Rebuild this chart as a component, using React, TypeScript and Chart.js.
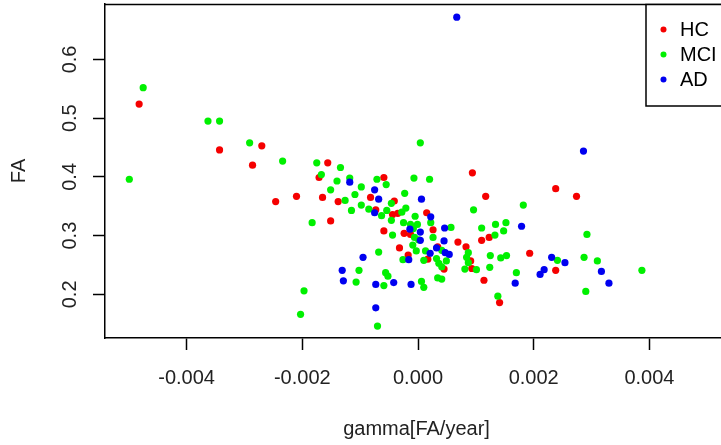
import React, { useEffect, useRef } from "react";
import { Chart, registerables } from "chart.js";

Chart.register(...registerables);

// ---- data ----
const seriesLabels = ["HC", "MCI", "AD"];

const hcX = [-0.00482, -0.00343, -0.0027, -0.00286, -0.00156, -0.00171, -0.0021, -0.00246, -0.00165, -0.00138, -0.00059, -0.00082, -0.00041, -0.00073, -0.00044, -0.00151, -0.00059, -0.00035, 0.00015, -0.00024, -0.00013, 0.00026, 0.00069, 0.00083, 0.00094, 0.00117, 0.0011, 0.00123, -0.00032, 0.00034, -0.00017, 0.00017, 0.00045, 0.00091, 0.00093, 0.00114, 0.00141, 0.00193, 0.00238, 0.00274, 0.00238];
const hcY = [0.524, 0.446, 0.453, 0.42, 0.424, 0.399, 0.367, 0.358, 0.365, 0.358, 0.399, 0.365, 0.359, 0.344, 0.336, 0.325, 0.308, 0.338, 0.339, 0.304, 0.302, 0.31, 0.289, 0.281, 0.407, 0.367, 0.292, 0.297, 0.279, 0.281, 0.267, 0.26, 0.243, 0.257, 0.244, 0.224, 0.186, 0.27, 0.38, 0.367, 0.241];

const mciX = [-0.00475, -0.00499, -0.00363, -0.00343, -0.00291, -0.00234, -0.00175, -0.00134, -0.00167, -0.00118, -0.0014, -0.00151, -0.00109, -0.00126, -0.00098, -0.00071, -0.00055, -0.00098, -0.00115, -0.00085, -0.00054, -0.00063, -0.00046, -0.00046, -0.00183, -0.00044, -0.00068, -0.00102, -0.00056, -0.00052, -0.00107, -0.00059, -0.00197, -0.00203, -0.0007, -0.00007, 0.0002, 0.00004, -0.00023, -0.00028, -0.00021, -0.00005, 0.00022, -0.00025, -0.00013, -0.00001, -0.00008, -0.00006, 0.00001, 0.00026, 0.00057, 0.00096, 0.0011, 0.00134, 0.00133, 0.00152, 0.00148, 0.00182, -0.00009, -0.00003, 0.00013, 0.00041, 0.00087, 0.00084, 0.00125, 0.00143, 0.00153, -0.00026, 0.0001, 0.00032, 0.00036, 0.00041, 0.00049, 0.00087, 0.00081, 0.00101, 0.00124, 0.00034, 0.00041, 0.00006, 0.0001, 0.00138, 0.0017, 0.00241, 0.00287, 0.0031, 0.00292, 0.00387, 0.0029];
const mciY = [0.552, 0.396, 0.495, 0.495, 0.458, 0.427, 0.424, 0.416, 0.404, 0.398, 0.393, 0.378, 0.37, 0.36, 0.383, 0.396, 0.387, 0.352, 0.343, 0.345, 0.343, 0.334, 0.355, 0.326, 0.322, 0.301, 0.272, 0.241, 0.237, 0.231, 0.221, 0.215, 0.206, 0.166, 0.146, 0.398, 0.396, 0.458, 0.372, 0.34, 0.347, 0.333, 0.322, 0.322, 0.319, 0.319, 0.312, 0.297, 0.293, 0.297, 0.314, 0.344, 0.313, 0.319, 0.301, 0.322, 0.308, 0.352, 0.284, 0.274, 0.274, 0.275, 0.271, 0.263, 0.266, 0.262, 0.266, 0.259, 0.258, 0.261, 0.253, 0.247, 0.257, 0.254, 0.243, 0.242, 0.246, 0.228, 0.226, 0.222, 0.212, 0.197, 0.237, 0.258, 0.263, 0.257, 0.302, 0.241, 0.205];

const adX = [0.00067, 0.00286, -0.00118, -0.00075, -0.00068, -0.00075, 0.00006, 0.00022, -0.00014, 0.00004, 0.00046, 0.00004, 0.00045, -0.00095, -0.00131, -0.00129, -0.00073, -0.00042, -0.00012, -0.00073, 0.00021, 0.00032, 0.00047, 0.00054, -0.00016, 0.00179, 0.00231, 0.00254, 0.00218, 0.00211, 0.00317, 0.0033, 0.00168];
const adY = [0.672, 0.444, 0.391, 0.378, 0.362, 0.339, 0.362, 0.332, 0.311, 0.306, 0.313, 0.292, 0.291, 0.263, 0.241, 0.223, 0.217, 0.22, 0.217, 0.177, 0.27, 0.279, 0.271, 0.268, 0.259, 0.316, 0.263, 0.254, 0.242, 0.234, 0.239, 0.219, 0.219];

const xLimits = [-0.00541, 0.005358];
const yLimits = [0.1257, 0.6944];
const xTickStep = 0.002;
const yTickStep = 0.1;
const xTitle = "gamma[FA/year]";
const yTitle = "FA";

const FONT = "'Liberation Sans', Arial, Helvetica, sans-serif";
const COLORS = ["#f50000", "#00f000", "#0000f0"];

const toPoints = (xs: number[], ys: number[]) => xs.map((x, i) => ({ x, y: ys[i] }));

const frameAndLegend = {
  id: "frameAndLegend",
  afterDraw(chart: any) {
    const { ctx, chartArea } = chart;
    ctx.save();
    ctx.strokeStyle = "#000";
    ctx.lineWidth = 1.5;
    ctx.beginPath();
    ctx.moveTo(chartArea.left, chartArea.top + 0.5);
    ctx.lineTo(chartArea.right + 20, chartArea.top + 0.5);
    ctx.stroke();
    // legend box
    const bw = 82;
    const bh = 101.5;
    const bx = chartArea.right - bw;
    const by = chartArea.top + 0.5;
    ctx.fillStyle = "#fff";
    ctx.fillRect(bx, by, bw + 20, bh);
    ctx.beginPath();
    ctx.moveTo(bx + bw + 20, by);
    ctx.lineTo(bx, by);
    ctx.lineTo(bx, by + bh);
    ctx.lineTo(bx + bw + 20, by + bh);
    ctx.stroke();
    chart.data.datasets.forEach((ds: any, i: number) => {
      const cy = by + 25 + i * 25;
      ctx.fillStyle = ds.backgroundColor;
      ctx.beginPath();
      ctx.arc(bx + 17.5, cy, 3, 0, Math.PI * 2);
      ctx.fill();
      ctx.fillStyle = "#000";
      ctx.font = `20px ${FONT}`;
      ctx.textBaseline = "middle";
      ctx.textAlign = "left";
      ctx.fillText(ds.label, bx + 34, cy + 1);
    });
    ctx.restore();
  },
};

export default function App() {
  const ref = useRef<HTMLCanvasElement | null>(null);

  useEffect(() => {
    if (!ref.current) return;
    const allX = [hcX, mciX, adX];
    const allY = [hcY, mciY, adY];
    const chart = new Chart(ref.current, {
      type: "scatter",
      data: {
        datasets: seriesLabels.map((label, i) => ({
          label,
          data: toPoints(allX[i], allY[i]),
          backgroundColor: COLORS[i],
          borderColor: COLORS[i],
          borderWidth: 0,
          pointRadius: 3.6,
          order: 3 - i,
        })),
      },
      options: {
        animation: false,
        responsive: false,
        devicePixelRatio: 1,
        events: [],
        layout: { padding: { top: 3, right: 12, left: 0, bottom: 0 } },
        plugins: { legend: { display: false }, tooltip: { enabled: false } },
        scales: {
          x: {
            type: "linear",
            position: "bottom",
            min: xLimits[0],
            max: xLimits[1],
            border: { display: true, color: "#000", width: 1.5 },
            grid: { drawOnChartArea: false, drawTicks: true, tickLength: 12, tickWidth: 1.5, tickColor: "#000" },
            ticks: {
              stepSize: xTickStep,
              includeBounds: false,
              autoSkip: false,
              maxRotation: 0,
              minRotation: 0,
              padding: 16,
              color: "#222",
              font: { size: 20, family: FONT },
              callback: (v: any) => Number(v).toFixed(3),
            },
            title: { display: true, text: xTitle, color: "#222", font: { size: 20, family: FONT }, padding: { top: 0, bottom: 4 } },
            afterFit: (s: any) => { s.height = 107; s.paddingLeft = 0; s.paddingRight = 0; },
          },
          y: {
            type: "linear",
            min: yLimits[0],
            max: yLimits[1],
            border: { display: true, color: "#000", width: 1.5 },
            grid: { drawOnChartArea: false, drawTicks: true, tickLength: 12, tickWidth: 1.5, tickColor: "#000" },
            ticks: {
              stepSize: yTickStep,
              includeBounds: false,
              autoSkip: false,
              minRotation: 90,
              maxRotation: 90,
              crossAlign: "center",
              padding: 9,
              color: "#222",
              font: { size: 20, family: FONT },
              callback: (v: any) => Number(v).toFixed(1),
            },
            title: { display: true, text: yTitle, color: "#222", font: { size: 20, family: FONT }, padding: { top: 7, bottom: 0 } },
            afterFit: (s: any) => { s.width = 105; s.paddingTop = 0; s.paddingBottom = 0; },
          },
        },
      },
      plugins: [frameAndLegend],
    });
    return () => chart.destroy();
  }, []);

  return (
    <div style={{ position: "absolute", left: 0, top: 0, width: 721, height: 445, overflow: "hidden", background: "#fff" }}>
      <canvas ref={ref} width={740} height={445} style={{ display: "block", width: 740, height: 445 }} />
    </div>
  );
}
